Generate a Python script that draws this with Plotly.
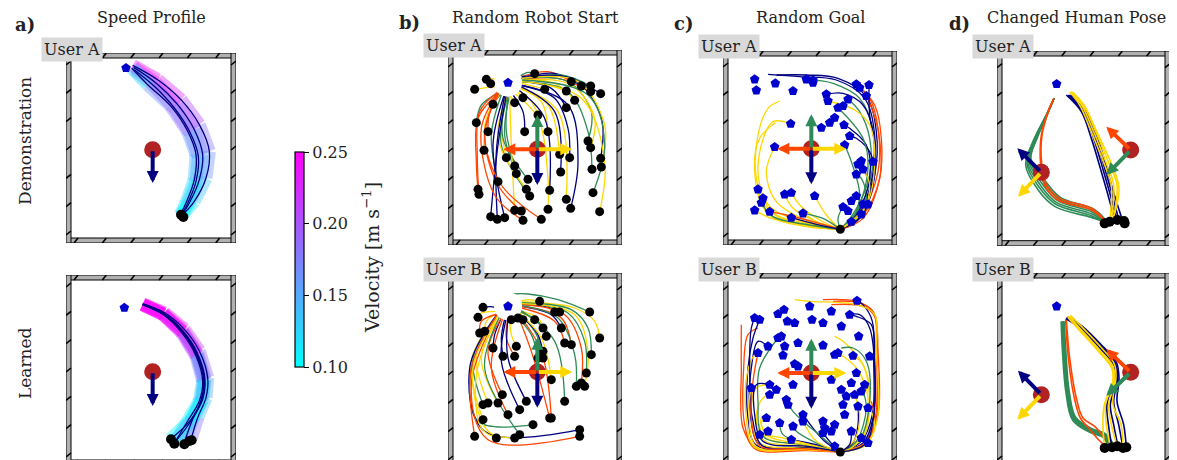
import plotly.graph_objects as go
from plotly.colors import sample_colorscale

FIG_W, FIG_H = 1177, 460
FONT = 'DejaVu Serif'
COLS = {'G': '#2e8b57', 'N': '#000080', 'O': '#ff4500', 'Y': '#ffd700'}
HUMAN_C = '#b22222'
GOAL_C = '#0000cd'
WALL_C = '#b0b0b0'
COOL = [[0.0, '#00ffff'], [1.0, '#ff00ff']]
VMIN, VMAX = 0.10, 0.25

# ---------------- data (room coordinates, 1 unit = 1/3 px) ----------------
# a) speed profile - demonstration
demo_x = [[200, 275, 345, 400, 430, 420, 385, 350], [203, 270, 335, 385, 410, 400, 370, 347],
          [205, 265, 325, 373, 397, 390, 363, 345], [197, 245, 315, 365, 390, 385, 360, 343]]
demo_y = [[533, 490, 430, 355, 275, 195, 125, 85], [527, 480, 415, 340, 265, 190, 120, 83],
          [520, 470, 405, 330, 260, 185, 115, 83], [525, 475, 410, 335, 265, 190, 120, 85]]
demo_v = [[0.25, 0.24, 0.22, 0.19, 0.17, 0.15, 0.12, 0.10], [0.24, 0.23, 0.21, 0.18, 0.16, 0.14, 0.12, 0.10],
          [0.12, 0.20, 0.20, 0.18, 0.16, 0.14, 0.12, 0.10], [0.10, 0.14, 0.19, 0.17, 0.15, 0.13, 0.11, 0.10]]
demo_start_x = [345, 352]
demo_start_y = [85, 78]
demo_goal = [180, 525]
demo_human = [260, 280]
demo_heading = [260, 180]

# a) speed profile - learned
learn_x = [[230, 295, 355, 400, 425, 420, 395, 375], [230, 293, 351, 395, 417, 410, 380, 355],
           [230, 290, 347, 390, 410, 400, 365, 330], [230, 291, 349, 392, 413, 405, 373, 313],
           [230, 292, 350, 393, 415, 407, 375, 323]]
learn_y = [[484, 457, 407, 342, 262, 202, 142, 77], [482, 454, 402, 334, 257, 197, 137, 67],
           [480, 452, 397, 327, 252, 192, 132, 74], [482, 453, 400, 330, 254, 194, 134, 77],
           [481, 452, 399, 332, 256, 195, 132, 64]]
learn_v = [[0.25, 0.25, 0.24, 0.21, 0.17, 0.13, 0.15, 0.22], [0.25, 0.25, 0.23, 0.20, 0.16, 0.12, 0.13, 0.18],
           [0.25, 0.25, 0.23, 0.19, 0.15, 0.11, 0.11, 0.13], [0.25, 0.25, 0.23, 0.20, 0.15, 0.11, 0.10, 0.11],
           [0.25, 0.25, 0.23, 0.19, 0.15, 0.12, 0.12, 0.16]]
learn_start_x = [315, 325, 355, 370, 377]
learn_start_y = [77, 64, 62, 72, 74]
learn_goal = [175, 472]
learn_human = [260, 280]
learn_heading = [260, 177]

# b) random robot start - user A
b1_goal = [180, 487]
b1_human = [268, 287]
b1_paths = [
    [[115, 497], [130, 500], [145, 495]], [[128, 484], [140, 482], [148, 480]], [[80, 467], [115, 472], [148, 475]],
    [[260, 514], [240, 518], [218, 508]], [[370, 490], [300, 520], [220, 505]], [[400, 477], [320, 515], [222, 500]],
    [[428, 477], [340, 510], [222, 498]], [[428, 460], [330, 500], [220, 495]], [[458, 454], [350, 505], [220, 500]],
    [[355, 462], [300, 480], [220, 490]], [[290, 467], [260, 475], [220, 485]], [[225, 442], [212, 455], [205, 462]],
    [[200, 427], [192, 440], [185, 450]], [[135, 422], [148, 440], [160, 455]], [[380, 434], [320, 485], [222, 495]],
    [[355, 412], [310, 470], [220, 490]], [[85, 367], [100, 420], [150, 455]], [[120, 340], [125, 400], [155, 452]],
    [[230, 340], [225, 400], [195, 450]], [[300, 340], [280, 430], [215, 470]], [[270, 390], [250, 430], [210, 465]],
    [[420, 312], [430, 400], [360, 490], [222, 500]], [[428, 292], [440, 380], [370, 480], [222, 495]],
    [[458, 260], [460, 380], [380, 495], [222, 505]], [[460, 234], [470, 360], [390, 490], [222, 500]],
    [[432, 227], [420, 340], [360, 460], [220, 490]], [[365, 262], [360, 350], [320, 440], [215, 480]],
    [[335, 272], [300, 420], [210, 475]], [[175, 262], [160, 350], [170, 450]], [[200, 237], [175, 340], [180, 450]],
    [[205, 214], [170, 330], [185, 450]], [[108, 284], [115, 380], [155, 455]],
    [[90, 167], [85, 250], [90, 380], [150, 455]], [[93, 152], [88, 260], [95, 400], [148, 458]],
    [[150, 190], [130, 330], [160, 450]], [[240, 197], [165, 320], [175, 450]], [[245, 147], [160, 300], [180, 450]],
    [[235, 167], [150, 320], [178, 450]], [[305, 164], [290, 380], [205, 470]], [[355, 137], [330, 400], [210, 475]],
    [[368, 110], [390, 250], [360, 420], [215, 480]], [[455, 100], [470, 250], [400, 440], [220, 490]],
    [[300, 107], [300, 200], [270, 380], [200, 455]], [[200, 104], [190, 300], [185, 450]],
    [[220, 102], [150, 180], [110, 330], [150, 455]], [[128, 85], [150, 300], [175, 450]],
    [[148, 77], [145, 280], [170, 448]], [[170, 82], [135, 300], [168, 448]],
    [[225, 74], [140, 150], [100, 350], [150, 455]], [[280, 77], [160, 180], [110, 330], [152, 455]],
    [[435, 157], [470, 300], [420, 450], [220, 495]], [[338, 219], [320, 400], [212, 478]],
]
b1_colors = 'YGYGONGONYYYYGYNGONYYGYNYGNYYGGYOOGGGYNYNYYYONNNOOGN'

# b) random robot start - user B
b2_goal = [180, 485]
b2_human = [268, 288]
b2_paths = [
    [[105, 482], [128, 484], [150, 480]], [[90, 452], [100, 465], [150, 470]], [[110, 410], [115, 440], [150, 465]],
    [[95, 405], [100, 440], [148, 462]], [[275, 500], [240, 505], [215, 500]], [[320, 468], [280, 490], [220, 495]],
    [[335, 468], [290, 485], [222, 490]], [[425, 468], [330, 505], [240, 522], [195, 522]],
    [[455, 390], [440, 440], [380, 480], [222, 498]], [[210, 450], [205, 462]], [[190, 445], [185, 450]],
    [[225, 445], [212, 460]], [[260, 445], [215, 470]], [[285, 420], [270, 450], [215, 472]],
    [[340, 420], [310, 460], [220, 485]], [[295, 395], [270, 440], [212, 470]], [[350, 375], [320, 440], [220, 480]],
    [[370, 370], [340, 450], [220, 485]], [[285, 350], [260, 410], [210, 470]], [[285, 330], [270, 400], [205, 468]],
    [[270, 330], [250, 400], [200, 462]], [[430, 340], [420, 420], [370, 475], [222, 495]],
    [[415, 285], [410, 380], [360, 465], [222, 495]], [[400, 255], [400, 360], [350, 460], [220, 490]],
    [[385, 245], [380, 340], [330, 450], [218, 488]], [[410, 245], [420, 350], [380, 460], [222, 493]],
    [[310, 265], [280, 390], [208, 470]], [[205, 365], [190, 400], [185, 448]], [[200, 335], [175, 390], [180, 448]],
    [[165, 335], [160, 390], [170, 447]], [[135, 360], [140, 400], [160, 450]], [[350, 200], [320, 380], [215, 475]],
    [[310, 150], [280, 350], [205, 470]], [[235, 200], [180, 330], [180, 450]], [[215, 175], [160, 320], [175, 450]],
    [[180, 160], [130, 300], [165, 450]], [[163, 220], [120, 350], [160, 450]], [[150, 195], [100, 330], [155, 452]],
    [[120, 195], [85, 340], [150, 458]], [[105, 190], [75, 330], [148, 460]], [[105, 145], [70, 320], [150, 462]],
    [[255, 130], [90, 140], [70, 300], [150, 462]], [[395, 115], [110, 110], [65, 300], [150, 465]],
    [[395, 95], [120, 85], [70, 250], [152, 468]], [[80, 95], [70, 300], [150, 465]],
    [[145, 90], [100, 120], [85, 280], [152, 462]], [[200, 90], [120, 110], [75, 300], [155, 462]],
    [[215, 100], [110, 300], [158, 460]], [[305, 150], [250, 350], [205, 468]],
]
b2_colors = 'NYYOYYNGYYNGYYNGOOGNGGGOGYYYONNGONNOOYYGYGNOOYYGO'

# c) random goal - user A
c1_start = [352, 47]
c1_human = [265, 289]
c1_goals_x = [95, 100, 157, 210, 250, 270, 270, 310, 315, 400, 410, 438, 430, 375, 360, 345, 335, 320, 363, 295,
              203, 380, 155, 365, 415, 405, 450, 420, 400, 105, 120, 115, 95, 140, 185, 205, 275, 400, 385, 420,
              435, 360, 375, 240, 205, 385, 415]
c1_goals_y = [497, 464, 485, 462, 497, 494, 487, 452, 432, 482, 472, 480, 447, 437, 417, 412, 382, 367, 360, 352,
              364, 327, 294, 300, 252, 242, 250, 227, 212, 167, 140, 127, 104, 100, 152, 157, 147, 147, 132, 122,
              122, 114, 102, 95, 82, 70, 92]
c1_paths = [
    [[352, 47], [405, 85], [450, 200], [455, 330], [425, 440], [340, 495], [230, 505], [135, 512]],
    [[352, 47], [410, 90], [455, 210], [460, 340], [430, 445], [345, 500], [250, 510], [160, 510]],
    [[352, 47], [400, 95], [445, 210], [450, 340], [410, 440], [330, 485], [250, 497]],
    [[352, 47], [415, 95], [465, 220], [465, 350], [440, 440], [400, 482]],
    [[352, 47], [405, 90], [448, 205], [452, 330], [420, 420], [360, 455], [310, 452]],
    [[352, 47], [395, 100], [440, 210], [440, 320], [410, 400], [375, 437]],
    [[352, 47], [420, 90], [470, 200], [468, 330], [450, 400], [430, 447]],
    [[352, 47], [410, 85], [450, 180], [445, 270], [400, 320], [380, 327]],
    [[352, 47], [405, 80], [440, 160], [420, 230], [405, 242]],
    [[352, 47], [400, 75], [430, 140], [415, 200], [400, 212]],
    [[352, 47], [400, 70], [420, 110], [400, 147]],
    [[352, 47], [390, 65], [410, 100], [420, 122]],
    [[352, 47], [420, 80], [470, 200], [475, 320], [455, 420], [410, 472]],
    [[352, 47], [390, 80], [410, 150], [385, 250], [365, 300]],
    [[352, 47], [400, 90], [440, 200], [430, 300], [380, 350], [363, 360]],
    [[352, 47], [415, 85], [452, 190], [455, 300], [440, 390], [438, 480]],
    [[352, 47], [400, 100], [435, 230], [420, 320], [345, 412]],
    [[352, 47], [280, 60], [160, 90], [110, 140], [105, 167]],
    [[352, 47], [270, 55], [150, 78], [95, 104]],
    [[352, 47], [260, 65], [160, 100], [120, 140]],
    [[352, 47], [280, 70], [210, 110], [185, 152]],
    [[352, 47], [290, 75], [230, 120], [205, 157]],
    [[352, 47], [250, 55], [140, 90], [100, 200], [105, 330], [135, 410], [170, 432]],
    [[352, 47], [240, 60], [130, 100], [95, 220], [110, 320], [157, 367]],
    [[352, 47], [260, 70], [160, 130], [130, 220], [155, 294]],
    [[352, 47], [300, 60], [240, 95]],
    [[352, 47], [310, 90], [275, 147]],
    [[352, 47], [430, 120], [455, 250], [440, 360], [395, 405], [315, 432]],
    [[352, 47], [420, 100], [440, 180], [420, 227]],
    [[352, 47], [255, 60], [150, 95], [108, 190], [115, 300], [150, 370], [203, 364]],
    [[352, 47], [260, 60], [150, 85], [115, 127]],
    [[352, 47], [270, 70], [190, 90], [140, 100]],
    [[352, 47], [280, 62], [205, 82]],
    [[352, 47], [300, 80], [240, 95]],
    [[352, 47], [345, 80], [360, 114]],
]
c1_colors = 'NNGONGONNGNGOGNNGYYYYYYYYYYYYYGONGG'

# c) random goal - user B
c2_start = [352, 48]
c2_human = [265, 285]
c2_goals_x = [95, 110, 165, 183, 193, 215, 260, 267, 300, 325, 355, 402, 407, 380, 175, 165, 135, 105, 185, 180,
              225, 215, 225, 300, 335, 345, 390, 440, 400, 325, 385, 425, 85, 140, 160, 140, 210, 190, 195, 355,
              370, 395, 415, 360, 405, 435, 130, 170, 240, 240, 210, 300, 305, 300, 325, 335, 365, 385, 415, 435,
              110, 135, 205, 335]
c2_goals_y = [450, 445, 462, 475, 440, 435, 485, 445, 435, 470, 425, 502, 395, 460, 395, 390, 365, 345, 365, 338,
              375, 312, 305, 368, 340, 345, 337, 335, 285, 265, 255, 250, 240, 250, 235, 220, 250, 205, 190, 235,
              215, 220, 230, 190, 185, 180, 150, 135, 160, 140, 125, 140, 120, 105, 110, 130, 160, 110, 90, 75,
              100, 110, 85, 65]
c2_paths = [
    [[352, 48], [250, 55], [100, 60], [60, 120], [55, 300], [55, 430]],
    [[352, 48], [250, 52], [95, 58], [65, 130], [62, 300], [75, 400], [105, 420]],
    [[352, 48], [240, 58], [100, 68], [75, 150], [75, 300], [90, 390], [110, 445]],
    [[352, 48], [250, 62], [110, 72], [82, 160], [85, 300], [105, 380], [135, 365]],
    [[352, 48], [240, 55], [95, 62], [70, 150], [72, 280], [95, 340], [105, 345]],
    [[352, 48], [240, 60], [110, 75], [85, 160], [100, 240], [140, 250]],
    [[352, 48], [240, 65], [120, 85], [100, 160], [120, 210], [140, 220]],
    [[352, 48], [250, 68], [130, 90], [110, 130], [130, 150]],
    [[352, 48], [240, 70], [120, 95], [105, 200], [110, 300], [165, 390]],
    [[352, 48], [260, 72], [180, 100], [170, 135]],
    [[352, 48], [260, 60], [120, 65], [88, 150], [80, 300], [85, 420], [95, 450]],
    [[352, 48], [250, 58], [100, 64], [78, 170], [82, 230], [85, 240]],
    [[352, 48], [240, 58], [110, 66], [85, 150], [90, 260], [105, 345]],
    [[352, 48], [280, 70], [205, 85]],
    [[352, 48], [280, 75], [220, 110], [210, 125]],
    [[352, 48], [280, 65], [180, 90], [110, 100]],
    [[352, 48], [280, 80], [240, 140]],
    [[352, 48], [300, 85], [240, 160]],
    [[352, 48], [300, 90], [210, 170], [190, 205]],
    [[352, 48], [320, 80], [300, 105]],
    [[352, 48], [245, 70], [130, 100], [115, 150], [130, 150]],
    [[352, 48], [255, 65], [120, 80], [95, 160], [100, 250], [140, 250]],
    [[352, 48], [420, 70], [455, 140], [460, 350], [450, 470], [400, 500], [300, 505]],
    [[352, 48], [425, 75], [460, 150], [462, 340], [455, 460], [410, 495], [330, 500]],
    [[352, 48], [430, 80], [465, 160], [465, 350], [455, 455], [420, 485], [325, 490]],
    [[352, 48], [420, 75], [450, 150], [455, 330], [445, 430], [400, 455], [380, 460]],
    [[352, 48], [415, 80], [448, 160], [452, 320], [448, 440], [420, 490], [402, 502]],
    [[352, 48], [435, 80], [465, 160], [460, 350], [455, 460], [400, 490], [260, 500], [215, 505]],
    [[352, 48], [420, 90], [440, 200], [420, 310], [390, 337]],
    [[352, 48], [415, 95], [435, 210], [400, 300], [345, 345]],
    [[352, 48], [420, 95], [440, 230], [420, 310], [360, 380], [335, 395]],
    [[352, 48], [410, 85], [440, 200], [430, 320], [390, 360], [355, 360]],
    [[352, 48], [400, 80], [430, 180], [420, 230]],
    [[352, 48], [390, 75], [405, 130], [405, 185]],
    [[352, 48], [395, 85], [410, 160], [395, 220]],
    [[352, 48], [380, 70], [385, 110]],
    [[352, 48], [385, 60], [415, 90]],
    [[352, 48], [420, 70], [455, 130], [445, 200]],
    [[352, 48], [430, 70], [455, 130], [440, 180]],
    [[352, 48], [425, 70], [450, 140], [455, 300], [440, 420], [410, 460], [380, 460]],
]
c2_colors = 'OONNYYYYGGNYONGYYNGNYNOOONNYYYYGGNYNYOYN'

# d) changed human pose - user A
d1_goal = [179, 485]
d1_humans_x = [133, 401]
d1_humans_y = [220, 287]
d1_heads = [[[61, 292], 'N'], [[63, 147], 'Y'], [[328, 357], 'O'], [[328, 212], 'G']]
d1_start_x = [323, 338, 361, 381, 383]
d1_start_y = [67, 72, 77, 74, 67]
d1_paths = [
    [[323, 72], [283, 85], [173, 118], [123, 168], [86, 242], [112, 322], [148, 392], [171, 442]],
    [[325, 70], [283, 90], [175, 125], [126, 176], [90, 245], [114, 322], [148, 392], [171, 442]],
    [[327, 68], [285, 95], [178, 130], [130, 182], [93, 248], [115, 322], [148, 392], [171, 442]],
    [[330, 66], [287, 100], [182, 135], [134, 188], [96, 252], [117, 322], [149, 392], [171, 442]],
    [[333, 65], [290, 104], [186, 140], [138, 194], [99, 256], [119, 323], [150, 393], [171, 442]],
    [[336, 64], [293, 108], [190, 145], [142, 198], [102, 260], [121, 324], [151, 393], [171, 442]],
    [[323, 74], [283, 107], [183, 137], [143, 182], [131, 242], [133, 332], [153, 402], [171, 442]],
    [[326, 72], [285, 112], [188, 142], [147, 186], [134, 246], [135, 332], [154, 402], [171, 442]],
    [[353, 77], [333, 152], [313, 222], [283, 322], [253, 402], [208, 452]],
    [[360, 77], [340, 152], [320, 222], [290, 322], [258, 402], [212, 452]],
    [[366, 75], [346, 152], [326, 222], [296, 322], [262, 402], [216, 452]],
    [[378, 72], [352, 152], [332, 222], [302, 322], [266, 402], [220, 452]],
    [[338, 72], [343, 182], [323, 242], [283, 342], [248, 422], [218, 462]],
    [[342, 72], [350, 182], [330, 242], [290, 342], [254, 422], [222, 462]],
    [[348, 75], [360, 182], [338, 242], [296, 342], [260, 422], [226, 462]],
    [[345, 70], [366, 170], [346, 240], [300, 340], [262, 420], [228, 458]],
]
d1_colors = 'GGGGGGOONNNNYYYY'

# d) changed human pose - user B
d2_goal = [179, 485]
d2_humans_x = [133, 401]
d2_humans_y = [220, 287]
d2_heads = [[[63, 292], 'N'], [[61, 145], 'Y'], [[328, 357], 'O'], [[328, 217], 'G']]
d2_start_x = [323, 345, 361, 378, 388]
d2_start_y = [60, 62, 65, 60, 62]
d2_thick_paths = [
    [[343, 75], [323, 100], [283, 115], [233, 150], [213, 230], [203, 350], [198, 440]],
    [[335, 70], [320, 95], [280, 110], [230, 145], [210, 230], [200, 350], [196, 440]],
]
d2_paths = [
    [[323, 90], [293, 125], [258, 150], [238, 210], [218, 330], [208, 445]],
    [[325, 65], [300, 90], [275, 120], [250, 150], [232, 210], [214, 330], [206, 445]],
    [[363, 65], [350, 130], [340, 190], [358, 260], [353, 310], [313, 360], [253, 420], [208, 450]],
    [[378, 60], [365, 130], [350, 200], [362, 265], [355, 315], [316, 362], [255, 422], [210, 452]],
    [[388, 62], [380, 130], [360, 200], [366, 268], [358, 318], [318, 364], [257, 424], [212, 453]],
    [[345, 62], [335, 125], [330, 190], [354, 258], [350, 308], [310, 358], [251, 418], [206, 448]],
    [[323, 60], [318, 120], [322, 190], [350, 255], [348, 305], [306, 356], [248, 420], [214, 455]],
    [[361, 65], [343, 130], [335, 195], [356, 262], [352, 312], [312, 362], [254, 424], [220, 458]],
    [[378, 62], [372, 130], [348, 190], [352, 250], [345, 300], [305, 350], [250, 415], [218, 455]],
    [[340, 65], [328, 130], [326, 200], [346, 250], [344, 300], [300, 355], [245, 415], [212, 452]],
]
d2_colors = 'OONNNNYYYY'

# cross of headings used in b) and c)
cross_heads = [[[0, 103], 'G'], [[0, -107], 'N'], [[-102, 0], 'O'], [[105, 0], 'Y']]

# colorbar ticks
cbar_ticks = [0.10, 0.15, 0.20, 0.25]

# ---------------- layout of panels (px) ----------------
BOX = {1: (58, 45, 170, 190), 2: (58, 267, 170, 190),
       3: (440, 42, 174, 195), 4: (440, 265, 174, 195),
       5: (715, 43, 174, 194), 6: (715, 265, 174, 195),
       7: (989, 43, 173, 194.7), 8: (989, 265, 173, 195)}
LABELS = {1: 'User A', 2: None, 3: 'User A', 4: 'User B', 5: 'User A', 6: 'User B', 7: 'User A', 8: 'User B'}

fig = go.Figure()
shapes, annos = [], []


def ax(i):
    return ('x' if i == 1 else f'x{i}'), ('y' if i == 1 else f'y{i}')


layout_axes = {}
for i, (l, t, w, h) in BOX.items():
    xn = 'xaxis' if i == 1 else f'xaxis{i}'
    yn = 'yaxis' if i == 1 else f'yaxis{i}'
    xr, yr = ax(i)
    W, H = 3 * w, 3 * h
    layout_axes[xn] = dict(domain=[l / FIG_W, (l + w) / FIG_W], range=[0, W], visible=False, fixedrange=True,
                           anchor=yr)
    layout_axes[yn] = dict(domain=[max(0, 1 - (t + h) / FIG_H), 1 - t / FIG_H], range=[0, H], visible=False,
                           fixedrange=True, anchor=xr)
    th = 15
    walls = [(0, H - th, W, H), (0, 0, W, th), (0, 0, th, H), (W - th, 0, W, H)]
    for (x0, y0, x1, y1) in walls:
        shapes.append(dict(type='rect', xref=xr, yref=yr, x0=x0, y0=y0, x1=x1, y1=y1,
                           fillcolor=WALL_C, line=dict(color='black', width=1), layer='above'))
    k = 30
    while k < W - 20:
        for (y0, y1) in [(H - th, H), (0, th)]:
            shapes.append(dict(type='line', xref=xr, yref=yr, x0=k - 6, y0=y0, x1=k + 6, y1=y1,
                               line=dict(color='black', width=1.6), layer='above'))
        k += 85
    k = 30
    while k < H - 20:
        for (x0, x1) in [(0, th), (W - th, W)]:
            shapes.append(dict(type='line', xref=xr, yref=yr, x0=x0, y0=k - 6, x1=x1, y1=k + 6,
                               line=dict(color='black', width=1.6), layer='above'))
        k += 85
    if LABELS[i]:
        annos.append(dict(text=LABELS[i], xref='paper', yref='paper', x=(l + 6) / FIG_W, y=1 - (t - 4) / FIG_H,
                          xanchor='center', yanchor='middle', showarrow=False, bgcolor='#d9d9d9', borderpad=2,
                          font=dict(family=FONT, size=16, color='#222')))


def vcol(v):
    return sample_colorscale(COOL, [(v - VMIN) / (VMAX - VMIN)])[0]


def arrow(i, tail, tip, color, width=4):
    xr, yr = ax(i)
    annos.append(dict(x=tip[0], y=tip[1], ax=tail[0], ay=tail[1], xref=xr, yref=yr, axref=xr, ayref=yr,
                      showarrow=True, arrowhead=2, arrowsize=0.6, arrowwidth=width, arrowcolor=color, text=''))


def line(i, xs, ys, color, width=1.3, shape='spline', opacity=1.0):
    xr, yr = ax(i)
    fig.add_trace(go.Scatter(x=xs, y=ys, mode='lines', xaxis=xr, yaxis=yr, opacity=opacity,
                             line=dict(color=color, width=width, shape=shape), hoverinfo='skip'))


def pts(i, xs, ys, color, size, symbol='circle'):
    xr, yr = ax(i)
    fig.add_trace(go.Scatter(x=xs, y=ys, mode='markers', xaxis=xr, yaxis=yr, hoverinfo='skip',
                             marker=dict(color=color, size=size, symbol=symbol, line=dict(width=0))))


# ---- panel a ----
for i, (PX, PY, PV, sx, sy, goal, hum, head) in {
        1: (demo_x, demo_y, demo_v, demo_start_x, demo_start_y, demo_goal, demo_human, demo_heading),
        2: (learn_x, learn_y, learn_v, learn_start_x, learn_start_y, learn_goal, learn_human, learn_heading)}.items():
    for xs, ys, vs in zip(PX, PY, PV):
        for j in range(len(xs) - 1):
            line(i, xs[j:j + 2], ys[j:j + 2], vcol((vs[j] + vs[j + 1]) / 2), width=13, shape='linear', opacity=0.4)
    for xs, ys in zip(PX, PY):
        line(i, xs, ys, COLS['N'], width=1.3)
    pts(i, sx, sy, 'black', 10)
    pts(i, [goal[0]], [goal[1]], GOAL_C, 10, 'pentagon')
    pts(i, [hum[0]], [hum[1]], HUMAN_C, 17)
    arrow(i, hum, head, COLS['N'])

# ---- panel b ----
for i, (paths, cols, goal, hum) in {3: (b1_paths, b1_colors, b1_goal, b1_human),
                                     4: (b2_paths, b2_colors, b2_goal, b2_human)}.items():
    for p, c in zip(paths, cols):
        line(i, [q[0] for q in p], [q[1] for q in p], COLS[c], width=1.3)
    pts(i, [goal[0]], [goal[1]], 'white', 28)
    pts(i, [p[0][0] for p in paths], [p[0][1] for p in paths], 'black', 9)
    pts(i, [goal[0]], [goal[1]], GOAL_C, 10, 'pentagon')
    pts(i, [hum[0]], [hum[1]], HUMAN_C, 17)
    for d, c in cross_heads:
        arrow(i, hum, [hum[0] + d[0], hum[1] + d[1]], COLS[c])

# ---- panel c ----
for i, (paths, cols, gx, gy, start, hum) in {5: (c1_paths, c1_colors, c1_goals_x, c1_goals_y, c1_start, c1_human),
                                             6: (c2_paths, c2_colors, c2_goals_x, c2_goals_y, c2_start, c2_human)}.items():
    for p, c in zip(paths, cols):
        line(i, [q[0] for q in p], [q[1] for q in p], COLS[c], width=1.3)
    pts(i, gx, gy, GOAL_C, 10, 'pentagon')
    pts(i, [start[0]], [start[1]], 'black', 9)
    pts(i, [hum[0]], [hum[1]], HUMAN_C, 17)
    for d, c in cross_heads:
        arrow(i, hum, [hum[0] + d[0], hum[1] + d[1]], COLS[c])

# ---- panel d ----
for p in d2_thick_paths:
    line(8, [q[0] for q in p], [q[1] for q in p], COLS['G'], width=4)
for i, (paths, cols, goal, hx, hy, heads, sx, sy) in {
        7: (d1_paths, d1_colors, d1_goal, d1_humans_x, d1_humans_y, d1_heads, d1_start_x, d1_start_y),
        8: (d2_paths, d2_colors, d2_goal, d2_humans_x, d2_humans_y, d2_heads, d2_start_x, d2_start_y)}.items():
    for p, c in zip(paths, cols):
        line(i, [q[0] for q in p], [q[1] for q in p], COLS[c], width=1.6)
    pts(i, sx, sy, 'black', 10)
    pts(i, [goal[0]], [goal[1]], GOAL_C, 10, 'pentagon')
    pts(i, hx, hy, HUMAN_C, 17)
    for k, (tip, c) in enumerate(heads):
        h = 0 if k < 2 else 1
        arrow(i, [hx[h], hy[h]], tip, COLS[c])

# ---- colorbar ----
fig.add_trace(go.Scatter(x=[None], y=[None], mode='markers', xaxis='x', yaxis='y', hoverinfo='skip',
                         marker=dict(color=[VMIN], cmin=VMIN, cmax=VMAX, colorscale=COOL, showscale=True,
                                     colorbar=dict(x=287 / FIG_W, xanchor='left', xpad=0, y=1 - 251.5 / FIG_H,
                                                   yanchor='middle', ypad=0, len=215 / FIG_H, lenmode='fraction',
                                                   thickness=9, thicknessmode='pixels', outlinecolor='black',
                                                   outlinewidth=1.2, ticks='outside', ticklen=5, tickcolor='black',
                                                   tickvals=cbar_ticks,
                                                   ticktext=[f'{v:.2f}' for v in cbar_ticks],
                                                   tickfont=dict(family=FONT, size=16, color='#222')))))
annos.append(dict(text='Velocity [m s<sup>−1</sup>]', xref='paper', yref='paper', x=363 / FIG_W,
                  y=1 - 250 / FIG_H, xanchor='center', yanchor='middle', showarrow=False, textangle=-90,
                  font=dict(family=FONT, size=19, color='#222')))

# ---- titles ----
titles = [('<b>a)</b>', 17, 16, 18), ('Speed Profile', 143.5, 10, 16), ('<b>b)</b>', 401, 14, 18),
          ('Random Robot Start', 527, 10, 16), ('<b>c)</b>', 675, 15, 18), ('Random Goal', 802, 10, 16),
          ('<b>d)</b>', 951, 15, 18), ('Changed Human Pose', 1068, 10, 16)]
for txt, x, y, s in titles:
    annos.append(dict(text=txt, xref='paper', yref='paper', x=x / FIG_W, y=1 - y / FIG_H, xanchor='center',
                      yanchor='middle', showarrow=False, font=dict(family=FONT, size=s, color='#222')))
for txt, y in [('Demonstration', 133), ('Learned', 355)]:
    annos.append(dict(text=txt, xref='paper', yref='paper', x=17 / FIG_W, y=1 - y / FIG_H, xanchor='center',
                      yanchor='middle', showarrow=False, textangle=-90, font=dict(family=FONT, size=17, color='#222')))

fig.update_layout(width=FIG_W, height=FIG_H, margin=dict(l=0, r=0, t=0, b=0), paper_bgcolor='white',
                  plot_bgcolor='white', showlegend=False, shapes=shapes, annotations=annos, **layout_axes)
fig.write_html('out.html')
